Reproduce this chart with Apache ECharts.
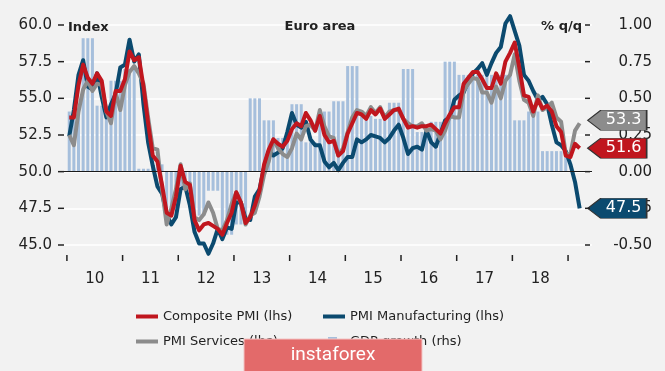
<!DOCTYPE html>
<html><head><meta charset="utf-8">
<script src="https://cdn.jsdelivr.net/npm/echarts@6/dist/echarts.min.js"></script>
<style>html,body{margin:0;padding:0;background:#f2f2f2}#c{width:665px;height:371px}</style>
</head><body><div id="c"></div>
<script>
const startYear = 2010;
// Monthly PMI, Jan 2010 .. Mar 2019
const composite = [
 53.7,53.7,55.9,57.3,56.4,56.0,56.7,56.2,54.1,53.8,55.5,55.5,
 56.3,58.2,57.6,57.8,55.8,53.3,51.1,50.7,49.1,47.2,47.0,48.3,
 50.4,49.3,49.1,46.7,46.0,46.4,46.5,46.3,46.1,45.7,46.5,47.2,
 48.6,47.9,46.5,46.9,47.7,48.7,50.5,51.5,52.2,51.9,51.7,52.1,
 52.9,53.3,53.1,54.0,53.5,52.8,53.8,52.5,52.0,52.1,51.1,51.4,
 52.6,53.3,54.0,53.9,53.6,54.2,53.9,54.3,53.6,53.9,54.2,54.3,
 53.6,53.0,53.1,53.0,53.1,53.1,53.2,52.9,52.6,53.3,53.9,54.4,
 54.4,56.0,56.4,56.8,56.8,56.3,55.7,55.7,56.7,56.0,57.5,58.1,
 58.8,57.1,55.2,55.1,54.1,54.9,54.3,54.5,54.1,53.1,52.7,51.1,
 51.0,51.9,51.6
];
const manufacturing = [
 52.4,54.2,56.6,57.6,55.8,55.6,56.7,55.1,53.7,54.6,55.3,57.1,
 57.3,59.0,57.5,58.0,54.6,52.0,50.4,49.0,48.5,47.1,46.4,46.9,
 48.8,49.0,47.7,45.9,45.1,45.1,44.4,45.1,46.1,45.4,46.2,46.1,
 47.9,47.9,46.8,46.7,48.3,48.8,50.3,51.4,51.1,51.3,51.6,52.7,
 54.0,53.2,53.0,53.4,52.2,51.8,51.8,50.7,50.3,50.6,50.1,50.6,
 51.0,51.0,52.2,52.0,52.2,52.5,52.4,52.3,52.0,52.3,52.8,53.2,
 52.3,51.2,51.6,51.7,51.5,52.8,52.0,51.7,52.6,53.5,53.7,54.9,
 55.2,55.4,56.2,56.7,57.0,57.4,56.6,57.4,58.1,58.5,60.1,60.6,
 59.6,58.6,56.6,56.2,55.5,54.9,55.1,54.6,53.2,52.0,51.8,51.4,
 50.5,49.3,47.5
];
const services = [
 52.5,51.8,54.1,55.6,56.2,55.5,56.0,55.9,54.1,53.3,55.4,54.2,
 55.9,56.8,57.2,56.7,56.0,53.7,51.6,51.5,48.8,46.4,47.5,48.8,
 50.5,48.8,49.2,46.9,46.7,47.1,47.9,47.2,46.1,46.0,46.7,47.8,
 48.6,47.9,46.4,47.0,47.2,48.3,49.8,50.7,52.2,51.6,51.2,51.0,
 51.6,52.6,52.2,53.1,53.2,52.8,54.2,53.1,52.4,52.3,51.1,51.6,
 52.7,53.7,54.2,54.1,53.8,54.4,54.0,54.4,53.7,54.1,54.2,54.2,
 53.6,53.3,53.1,53.1,53.3,52.8,52.9,52.8,52.2,52.8,53.8,53.7,
 53.7,55.5,56.0,56.4,56.3,55.4,55.4,54.7,55.8,55.0,56.2,56.6,
 58.0,56.2,54.9,54.7,53.8,55.2,54.2,54.4,54.7,53.7,53.4,51.2,
 51.2,52.8,53.3
];
// Quarterly GDP growth % q/q, 2010Q1 .. 2018Q4
const gdpQuarterly = [
 0.41,0.91,0.45,0.62,
 0.70,0.02,0.05,-0.25,
 -0.10,-0.30,-0.13,-0.43,
 -0.36,0.50,0.35,0.23,
 0.46,0.20,0.41,0.48,
 0.72,0.38,0.36,0.47,
 0.70,0.27,0.34,0.75,
 0.66,0.66,0.66,0.66,
 0.35,0.41,0.14,0.14
];
const yearTicks = [2010,2011,2012,2013,2014,2015,2016,2017,2018,2019];
const yearLabels = ['10','11','12','13','14','15','16','17','18'];
const leftTicks = [45,47.5,50,52.5,55,57.5,60];
const rightTicks = [-0.5,-0.25,0,0.25,0.5,0.75,1];

const names = {
  comp: 'Composite PMI (lhs)',
  manu: 'PMI Manufacturing (lhs)',
  serv: 'PMI Services (lhs)',
  gdp: 'GDP growth (rhs)'
};
const colors = { comp: '#c0161e', manu: '#0b4a6f', serv: '#8c8c8c', gdp: '#a6bfdc' };
const bg = '#f2f2f2';
const xMin = 2009.84, xMax = 2019.43;

const monthX = i => startYear + (i + 0.5) / 12;
const toPairs = arr => arr.map((v, i) => [monthX(i), v]);
const gdpMonthly = [];
gdpQuarterly.forEach((v, q) => { for (let m = 0; m < 3; m++) gdpMonthly.push([monthX(q * 3 + m), v]); });
const labelPos = yearLabels.map((l, i) => yearTicks[i] + 0.5);

function endBox(arr, color, dy) {
  const last = arr.length - 1;
  return {
    symbol: 'path://M0,10L13,0L59,0L59,20L13,20Z',
    symbolSize: [59, 20],
    symbolOffset: [37.5, dy],
    itemStyle: { color: color, borderColor: '#333', borderWidth: 1 },
    label: { show: true, position: 'inside', offset: [6.5, 0], color: '#fff', fontSize: 16,
      fontFamily: 'DejaVu Sans', formatter: p => p.value.toFixed(1) },
    data: [{ coord: [monthX(last), arr[last]], value: arr[last] }]
  };
}
function lineSeries(name, arr, color, z, dy) {
  return {
    type: 'line', name: name, data: toPairs(arr), yAxisIndex: 0,
    symbol: 'none', showSymbol: false, clip: false, z: z,
    lineStyle: { color: color, width: 4, join: 'round' },
    itemStyle: { color: color },
    markPoint: endBox(arr, color, dy)
  };
}
// tick marks drawn through the axes' own scales
function tickSeries(data, yAxisIndex, dx1, dy1, dx2, dy2) {
  return {
    type: 'custom', yAxisIndex: yAxisIndex, data: data, silent: true, clip: false, z: 6,
    renderItem: (params, api) => {
      const p = api.coord([api.value(0), api.value(1)]);
      return { type: 'line', shape: { x1: p[0] + dx1, y1: p[1] + dy1, x2: p[0] + dx2, y2: p[1] + dy2 },
        style: { stroke: '#222', lineWidth: 1.5 } };
    }
  };
}
const legendBase = { selectedMode: false, padding: 0, itemWidth: 22, itemHeight: 4, itemGap: 5,
  textStyle: { fontSize: 13, color: '#222', fontFamily: 'DejaVu Sans' } };

const chart = echarts.init(document.getElementById('c'));
chart.setOption({
  backgroundColor: bg,
  animation: false,
  textStyle: { fontFamily: 'DejaVu Sans' },
  grid: { left: 58, right: 73, top: 25, bottom: 126 },
  legend: [
    Object.assign({}, legendBase, { data: [{ name: names.comp, icon: 'rect' }], left: 136, top: 310 }),
    Object.assign({}, legendBase, { data: [{ name: names.manu, icon: 'rect' }], left: 323, top: 310 }),
    Object.assign({}, legendBase, { data: [{ name: names.serv, icon: 'rect' }], left: 136, top: 335 }),
    Object.assign({}, legendBase, { data: [{ name: names.gdp, icon: 'rect' }], left: 328, top: 335,
      itemWidth: 9, itemHeight: 9, textStyle: { fontSize: 13, color: '#222', fontFamily: 'DejaVu Sans', padding: [0, 0, 0, 8] } })
  ],
  xAxis: {
    type: 'value', min: xMin, max: xMax, offset: 10,
    axisLine: { show: false }, axisTick: { show: false }, splitLine: { show: false },
    axisLabel: { customValues: labelPos, formatter: v => yearLabels[Math.floor(v) - startYear],
      fontSize: 15, color: '#222', margin: 17 }
  },
  yAxis: [
    { type: 'value', min: 45, max: 60, interval: 2.5, position: 'left',
      axisLine: { show: false }, axisTick: { show: false },
      axisLabel: { formatter: v => v.toFixed(1), fontSize: 15, color: '#222', margin: 6 },
      splitLine: { show: true, lineStyle: { color: '#ffffff', width: 1.5 } } },
    { type: 'value', min: -0.5, max: 1, interval: 0.25, position: 'right',
      axisLine: { show: false }, axisTick: { show: false },
      axisLabel: { formatter: v => v.toFixed(2), fontSize: 15, color: '#222', margin: 60, align: 'right' },
      splitLine: { show: false } }
  ],
  series: [
    { type: 'bar', name: names.gdp, yAxisIndex: 1, data: gdpMonthly, barWidth: 3, z: 1,
      itemStyle: { color: colors.gdp },
      markLine: { silent: true, symbol: 'none', label: { show: false },
        lineStyle: { color: '#1a1a1a', width: 1.2, type: 'solid' }, data: [{ yAxis: 0 }] } },
    lineSeries(names.manu, manufacturing, colors.manu, 3, 0),
    lineSeries(names.serv, services, colors.serv, 4, -3),
    lineSeries(names.comp, composite, colors.comp, 5, 0),
    tickSeries(yearTicks.map(y => [y, 45]), 0, 0, 10, 0, 16),
    tickSeries(leftTicks.map(v => [xMin, v]), 0, 0, 0, 6, 0),
    tickSeries(rightTicks.map(v => [xMax, v]), 1, -7, 0, -2, 0)
  ],
  graphic: [
    { type: 'text', x: 68, y: 28, z: 10, style: { text: 'Index', font: 'bold 13px DejaVu Sans', fill: '#222',
      align: 'left', verticalAlign: 'middle', textAlign: 'left', textVerticalAlign: 'middle' } },
    { type: 'text', x: 320, y: 27, z: 10, style: { text: 'Euro area', font: 'bold 13px DejaVu Sans', fill: '#222',
      align: 'center', verticalAlign: 'middle', textAlign: 'center', textVerticalAlign: 'middle' } },
    { type: 'text', x: 582, y: 27, z: 10, style: { text: '% q/q', font: 'bold 13px DejaVu Sans', fill: '#222',
      align: 'right', verticalAlign: 'middle', textAlign: 'right', textVerticalAlign: 'middle' } },
    { type: 'rect', z: 100, shape: { x: 244, y: 339, width: 178, height: 40 },
      style: { fill: '#e36a6a', stroke: '#f3c4c4', lineWidth: 1 } },
    { type: 'text', x: 333, y: 355, z: 101, style: { text: 'instaforex', font: '19px Roboto', fill: '#ffffff',
      align: 'center', verticalAlign: 'middle', textAlign: 'center', textVerticalAlign: 'middle' } }
  ]
});
</script>
</body></html>
